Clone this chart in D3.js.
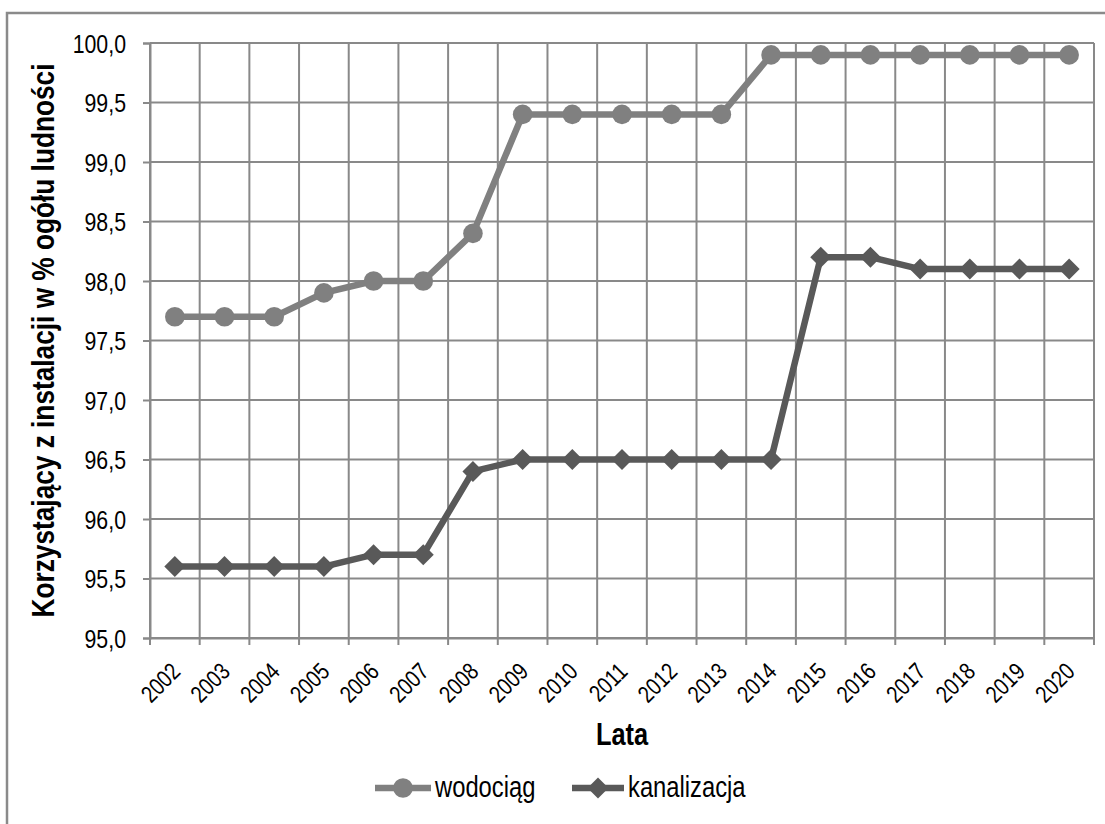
<!DOCTYPE html>
<html>
<head>
<meta charset="utf-8">
<script src="https://cdn.jsdelivr.net/npm/d3@7"></script>
<style>
  html, body { margin: 0; padding: 0; background: #fff; }
  svg { display: block; }
  text { font-family: "Liberation Sans", Arial, sans-serif; fill: #000; }
</style>
</head>
<body>
<svg id="chart" width="1105" height="824"></svg>
<script>
const years = ["2002","2003","2004","2005","2006","2007","2008","2009","2010","2011","2012","2013","2014","2015","2016","2017","2018","2019","2020"];
const wodociag = [97.7,97.7,97.7,97.9,98.0,98.0,98.4,99.4,99.4,99.4,99.4,99.4,99.9,99.9,99.9,99.9,99.9,99.9,99.9];
const kanalizacja = [95.6,95.6,95.6,95.6,95.7,95.7,96.4,96.5,96.5,96.5,96.5,96.5,96.5,98.2,98.2,98.1,98.1,98.1,98.1];
const yTicks = [95.0,95.5,96.0,96.5,97.0,97.5,98.0,98.5,99.0,99.5,100.0];
const seriesNames = ["wodociąg","kanalizacja"];
const yTitle = "Korzystający z instalacji w % ogółu ludności";
const xTitle = "Lata";

const svg = d3.select("#chart");
const plot = {left: 150, right: 1094, top: 43, bottom: 638};
const gridColor = "#898989";
const colW = "#808080", colK = "#595959";
const NARROW = 0.82; // condensed (Arial Narrow-like) glyph width

// outer frame
svg.append("rect").attr("x", 7).attr("y", 13).attr("width", 1120).attr("height", 840)
  .attr("fill", "#fff").attr("stroke", "#8a8a8a").attr("stroke-width", 2.5);

const x = d3.scaleBand().domain(years).range([plot.left, plot.right]).padding(0);
const y = d3.scaleLinear().domain([95, 100]).range([plot.bottom, plot.top]);
const fmt = v => d3.format(".1f")(v).replace(".", ",");

// horizontal gridlines
svg.append("g").selectAll("line").data(yTicks).join("line")
  .attr("x1", plot.left).attr("x2", plot.right)
  .attr("y1", d => y(d)).attr("y2", d => y(d))
  .attr("stroke", gridColor).attr("stroke-width", 2);

// vertical gridlines at category boundaries (with tick marks below the axis)
const bounds = years.map(d => x(d)).concat([x.range()[1]]);
svg.append("g").selectAll("line").data(bounds).join("line")
  .attr("x1", d => d).attr("x2", d => d)
  .attr("y1", plot.top).attr("y2", plot.bottom + 7)
  .attr("stroke", gridColor).attr("stroke-width", 2);

// y axis
const yAxis = d3.axisLeft(y).tickValues(yTicks).tickFormat(fmt).tickSize(7).tickPadding(17);
const gy = svg.append("g").attr("transform", `translate(${plot.left},0)`).call(yAxis);
gy.select(".domain").attr("stroke", gridColor).attr("stroke-width", 2);
gy.selectAll(".tick line").attr("stroke", gridColor).attr("stroke-width", 2);
gy.selectAll(".tick text")
  .style("font-size", "26px").attr("fill", "#000")
  .attr("x", null).attr("y", null).attr("dy", "0.36em")
  .attr("text-anchor", "end")
  .attr("transform", `translate(-24,0) scale(${NARROW},1)`);

// x axis (labels)
const xAxis = d3.axisBottom(x).tickSize(0).tickPadding(0);
const gx = svg.append("g").attr("transform", `translate(0,${plot.bottom})`).call(xAxis);
gx.select(".domain").attr("stroke", gridColor).attr("stroke-width", 2);
gx.selectAll(".tick text")
  .style("font-size", "24px").attr("fill", "#000")
  .attr("text-anchor", "end")
  .attr("dy", 0).attr("y", null).attr("x", null)
  .attr("transform", `translate(7,35) rotate(-45) scale(${NARROW},1)`);

// lines
const line = d3.line().x((d, i) => x(years[i]) + x.bandwidth() / 2).y(d => y(d));
svg.append("path").datum(kanalizacja).attr("d", line)
  .attr("fill", "none").attr("stroke", colK).attr("stroke-width", 6.5).attr("stroke-linejoin", "round");
svg.append("path").datum(wodociag).attr("d", line)
  .attr("fill", "none").attr("stroke", colW).attr("stroke-width", 6.5).attr("stroke-linejoin", "round");

const diamond = (cx, cy, r) => `M${cx},${cy - r}L${cx + r},${cy}L${cx},${cy + r}L${cx - r},${cy}Z`;
svg.append("g").selectAll("path").data(kanalizacja).join("path")
  .attr("d", (d, i) => diamond(x(years[i]) + x.bandwidth() / 2, y(d), 10.5))
  .attr("fill", colK);
svg.append("g").selectAll("circle").data(wodociag).join("circle")
  .attr("cx", (d, i) => x(years[i]) + x.bandwidth() / 2).attr("cy", d => y(d)).attr("r", 9.8)
  .attr("fill", colW);

// axis titles
svg.append("text").attr("transform", `translate(54,${(plot.top + plot.bottom) / 2}) rotate(-90) scale(${NARROW},1)`)
  .attr("text-anchor", "middle").style("font-size", "32px").style("font-weight", "bold").text(yTitle);
svg.append("text").attr("transform", `translate(${(plot.left + plot.right) / 2},745) scale(${NARROW},1)`)
  .attr("text-anchor", "middle").style("font-size", "31px").style("font-weight", "bold").text(xTitle);

// legend
const legY = 788;
const leg = [
  {name: seriesNames[0], color: colW, x0: 375, x1: 431, shape: "circle"},
  {name: seriesNames[1], color: colK, x0: 572, x1: 624, shape: "diamond"}
];
leg.forEach(l => {
  svg.append("line").attr("x1", l.x0).attr("x2", l.x1).attr("y1", legY).attr("y2", legY)
    .attr("stroke", l.color).attr("stroke-width", 6.5);
  const cx = (l.x0 + l.x1) / 2;
  if (l.shape === "circle") svg.append("circle").attr("cx", cx).attr("cy", legY).attr("r", 9.8).attr("fill", l.color);
  else svg.append("path").attr("d", diamond(cx, legY, 10.5)).attr("fill", l.color);
  svg.append("text").attr("transform", `translate(${l.x1 + 4},${legY + 9}) scale(${NARROW},1)`)
    .style("font-size", "29px").text(l.name);
});
</script>
</body>
</html>
